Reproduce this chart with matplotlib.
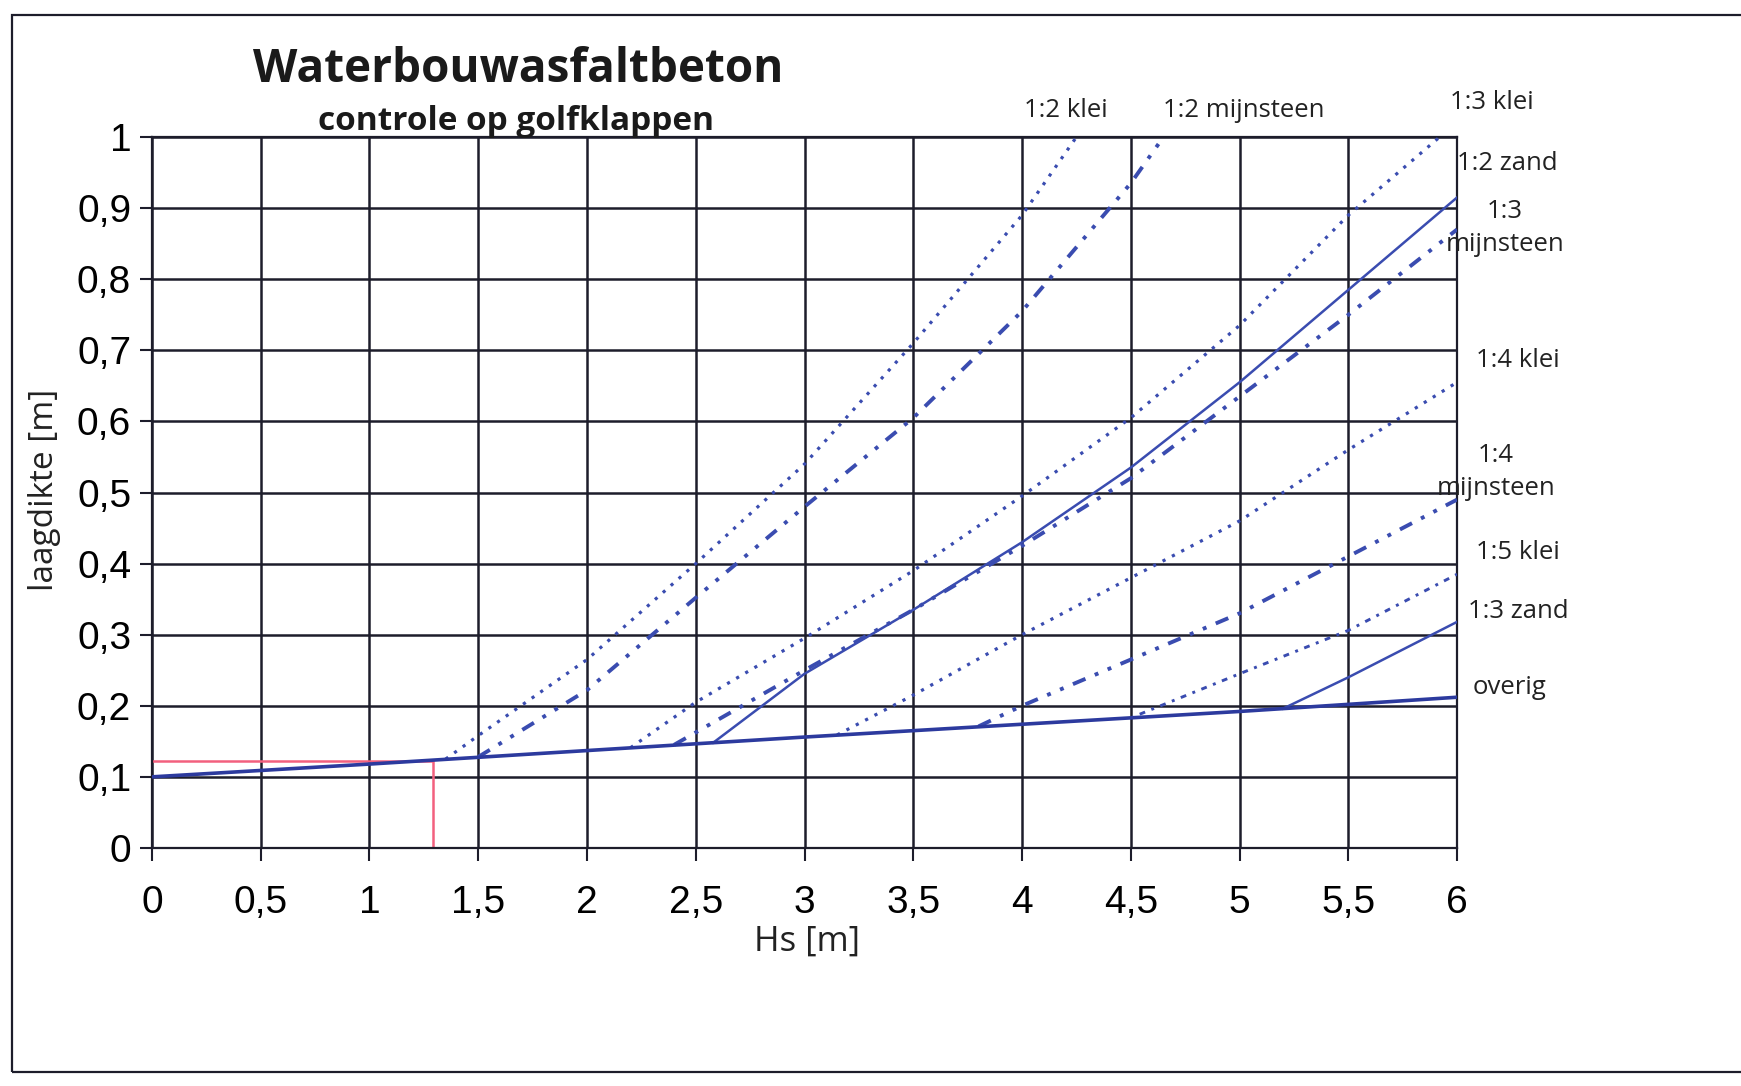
import matplotlib
matplotlib.use("Agg")
from matplotlib import pyplot as plt
from matplotlib.patches import Rectangle

# Hs [m] / laagdikte [m]
hs_overig = [0, 1, 2, 3, 4, 5, 6]
d_overig = [0.100, 0.118, 0.137, 0.156, 0.174, 0.192, 0.212]

hs_klei_12 = [1.35, 1.5, 2.0, 2.5, 3.0, 3.5, 4.0, 4.25]
d_klei_12 = [0.125, 0.158, 0.265, 0.400, 0.540, 0.710, 0.890, 1.0]

hs_mijn_12 = [1.5, 2.0, 2.5, 3.0, 3.5, 4.0, 4.5, 4.65]
d_mijn_12 = [0.128, 0.222, 0.352, 0.480, 0.605, 0.755, 0.935, 1.0]

hs_klei_13 = [2.2, 2.5, 3.0, 3.5, 4.0, 4.5, 5.0, 5.5, 5.92]
d_klei_13 = [0.141, 0.205, 0.295, 0.390, 0.495, 0.605, 0.735, 0.890, 1.0]

hs_mijn_13 = [2.4, 3.0, 3.5, 4.0, 4.5, 5.0, 5.5, 6.0]
d_mijn_13 = [0.145, 0.250, 0.335, 0.425, 0.520, 0.635, 0.750, 0.870]

hs_zand_12 = [2.58, 3.0, 3.5, 4.0, 4.5, 5.0, 5.5, 6.0]
d_zand_12 = [0.148, 0.245, 0.335, 0.430, 0.535, 0.655, 0.785, 0.915]

hs_klei_14 = [3.15, 3.5, 4.0, 4.5, 5.0, 5.5, 6.0]
d_klei_14 = [0.159, 0.215, 0.300, 0.380, 0.460, 0.560, 0.655]

hs_mijn_14 = [3.8, 4.0, 4.5, 5.0, 5.5, 6.0]
d_mijn_14 = [0.171, 0.200, 0.265, 0.330, 0.410, 0.490]

hs_klei_15 = [4.5, 5.0, 5.5, 6.0]
d_klei_15 = [0.183, 0.245, 0.306, 0.385]

hs_zand_13 = [5.2, 5.5, 6.0]
d_zand_13 = [0.196, 0.240, 0.318]

# red reading lines
hs_rood = [0, 1.29, 1.29]
d_rood = [0.122, 0.122, 0]

x_ticks = [0, 0.5, 1, 1.5, 2, 2.5, 3, 3.5, 4, 4.5, 5, 5.5, 6]
x_ticklabels = ["0", "0,5", "1", "1,5", "2", "2,5", "3", "3,5", "4", "4,5", "5", "5,5", "6"]
y_ticks = [0, 0.1, 0.2, 0.3, 0.4, 0.5, 0.6, 0.7, 0.8, 0.9, 1]
y_ticklabels = ["0", "0,1", "0,2", "0,3", "0,4", "0,5", "0,6", "0,7", "0,8", "0,9", "1"]

BLUE = "#3a4cb0"
DARK = "#1d1d2b"
DOT = (0, (1, 2.3))
DASHDOT = (0, (3.5, 2.6, 1, 2.6, 1, 2.6))
TXT = ["Open Sans", "DejaVu Sans"]
NUM = ["Liberation Sans Narrow", "Liberation Sans", "DejaVu Sans"]


def main():
    fig = plt.figure(figsize=(17.41, 10.86), dpi=100)
    ax = fig.add_axes([0.0873, 0.2192, 0.7496, 0.6546])

    ax.set_xlim(0, 6)
    ax.set_ylim(0, 1)
    ax.set_xticks(x_ticks)
    ax.set_xticklabels(x_ticklabels, family=NUM, fontsize=28)
    ax.set_yticks(y_ticks)
    ax.set_yticklabels(y_ticklabels, family=NUM, fontsize=28)
    ax.tick_params(axis="x", direction="out", length=9, width=1.5, color=DARK, pad=18)
    ax.tick_params(axis="y", direction="out", length=9, width=1.5, color=DARK, pad=6)
    ax.grid(True, color=DARK, linewidth=1.8)
    ax.set_axisbelow(True)
    for sp in ax.spines.values():
        sp.set_color(DARK)
        sp.set_linewidth(1.6)

    ax.plot(hs_klei_12, d_klei_12, color=BLUE, lw=2.3, ls=DOT, zorder=3)
    ax.plot(hs_mijn_12, d_mijn_12, color=BLUE, lw=2.8, ls=DASHDOT, zorder=3)
    ax.plot(hs_klei_13, d_klei_13, color=BLUE, lw=2.3, ls=DOT, zorder=3)
    ax.plot(hs_mijn_13, d_mijn_13, color=BLUE, lw=2.8, ls=DASHDOT, zorder=3)
    ax.plot(hs_zand_12, d_zand_12, color=BLUE, lw=1.8, ls="-", zorder=3)
    ax.plot(hs_klei_14, d_klei_14, color=BLUE, lw=2.3, ls=DOT, zorder=3)
    ax.plot(hs_mijn_14, d_mijn_14, color=BLUE, lw=2.8, ls=DASHDOT, zorder=3)
    ax.plot(hs_klei_15, d_klei_15, color=BLUE, lw=2.1, ls=(0, (1, 2.3, 2, 2.3)), zorder=3)
    ax.plot(hs_zand_13, d_zand_13, color=BLUE, lw=1.8, ls="-", zorder=3)
    ax.plot(hs_overig, d_overig, color="#2c3a9e", lw=2.6, ls="-", zorder=4)
    ax.plot(hs_rood, d_rood, color="#f2607e", lw=1.8, zorder=2)

    # line labels around the plot
    kw = dict(fontsize=18.5, family=TXT, color="#222222", clip_on=False)
    ax.text(4.2, 1.038, "1:2 klei", ha="center", va="center", **kw)
    ax.text(5.02, 1.038, "1:2 mijnsteen", ha="center", va="center", **kw)
    ax.text(6.16, 1.049, "1:3 klei", ha="center", va="center", **kw)
    ax.text(6.23, 0.963, "1:2 zand", ha="center", va="center", **kw)
    ax.text(6.22, 0.872, "1:3\nmijnsteen", ha="center", va="center", linespacing=1.45, **kw)
    ax.text(6.28, 0.686, "1:4 klei", ha="center", va="center", **kw)
    ax.text(6.18, 0.529, "1:4\nmijnsteen", ha="center", va="center", linespacing=1.45, **kw)
    ax.text(6.28, 0.415, "1:5 klei", ha="center", va="center", **kw)
    ax.text(6.05, 0.332, "1:3 zand", ha="left", va="center", **kw)
    ax.text(6.24, 0.225, "overig", ha="center", va="center", **kw)

    fig.text(253 / 1741, 1 - 82 / 1086, "Waterbouwasfaltbeton", family=TXT,
             fontsize=33, fontweight="bold", color="#1a1a1a", va="baseline")
    fig.text(318 / 1741, 1 - 130 / 1086, "controle op golfklappen", family=TXT,
             fontsize=24, fontweight="bold", color="#1a1a1a", va="baseline")
    fig.text(45 / 1741, 1 - 490 / 1086, "laagdikte [m]", family=TXT, fontsize=24,
             rotation=90, ha="center", va="center", color="#222222")
    fig.text(807 / 1741, 1 - 942 / 1086, "Hs [m]", family=TXT, fontsize=25,
             ha="center", va="center", color="#222222")

    # outer frame of the chart
    fig.patches.append(Rectangle((12 / 1741, 1 - 1072 / 1086), 1.2, (1072 - 15) / 1086,
                                 transform=fig.transFigure, fill=False,
                                 edgecolor=DARK, linewidth=1.6))

    fig.savefig("out.png", dpi=100, facecolor="white")


if __name__ == '__main__':
    main()
